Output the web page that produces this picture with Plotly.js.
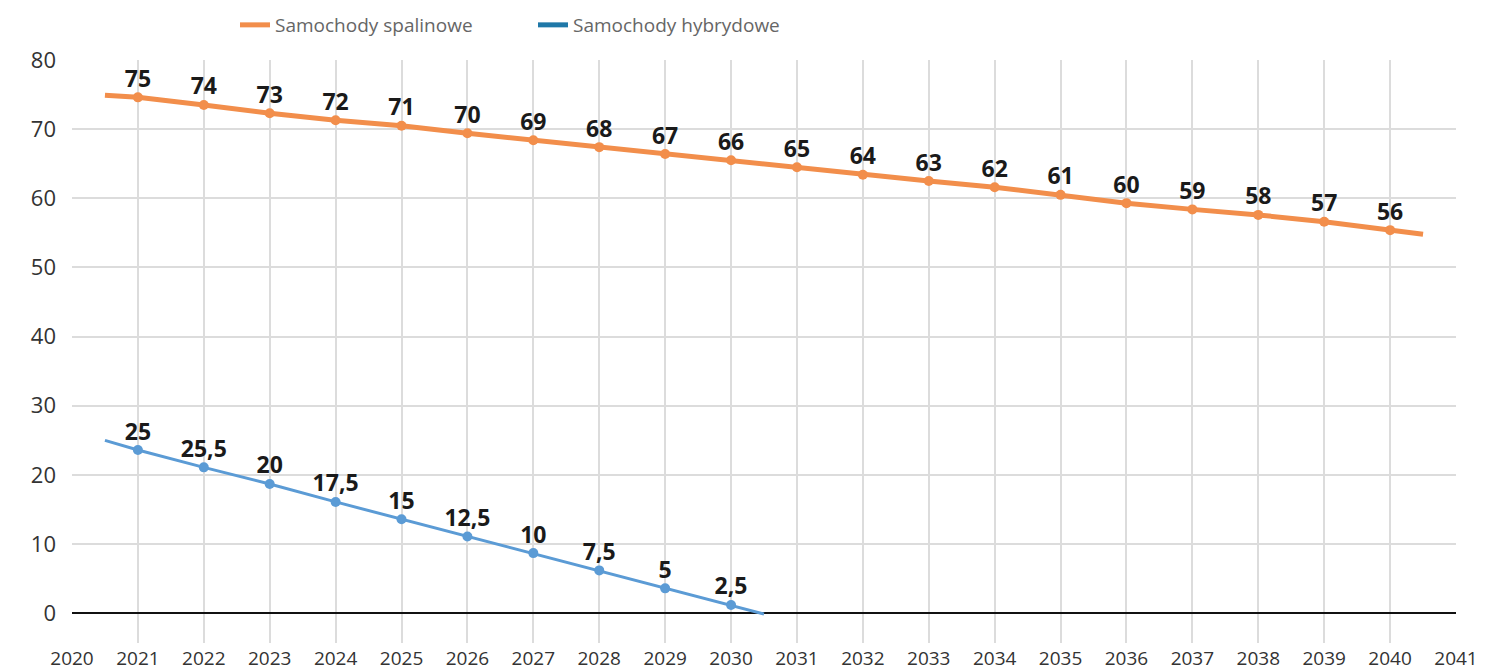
<!DOCTYPE html>
<html>
<head>
<meta charset="utf-8">
<script src="https://cdn.plot.ly/plotly-3.0.1.min.js"></script>
<style>html,body{margin:0;padding:0;background:#fff;}#chart{width:1491px;height:670px;}</style>
</head>
<body>
<div id="chart"></div>
<script>
// ---- data ----
const years = [2021,2022,2023,2024,2025,2026,2027,2028,2029,2030,2031,2032,2033,2034,2035,2036,2037,2038,2039,2040];
const combustionValues = [74.6,73.5,72.3,71.3,70.5,69.4,68.4,67.4,66.4,65.5,64.5,63.4,62.5,61.6,60.5,59.3,58.4,57.6,56.6,55.4];
const combustionLabels = ["75","74","73","72","71","70","69","68","67","66","65","64","63","62","61","60","59","58","57","56"];
const combustionStart = [2020.5, 74.9];
const combustionEnd = [2040.5, 54.8];

const hybridYears = [2021,2022,2023,2024,2025,2026,2027,2028,2029,2030];
const hybridValues = [23.6,21.1,18.7,16.1,13.6,11.1,8.7,6.2,3.6,1.2];
const hybridLabels = ["25","25,5","20","17,5","15","12,5","10","7,5","5","2,5"];
const hybridStart = [2020.5, 25.0];
const hybridEnd = [2030.5, -0.1];

const xTicks = [2020,2021,2022,2023,2024,2025,2026,2027,2028,2029,2030,2031,2032,2033,2034,2035,2036,2037,2038,2039,2040,2041];
const seriesNames = ["Samochody spalinowe","Samochody hybrydowe"];

const orange = "#F28E4B";
const blueLine = "#5B9BD5";
const blueLegend = "#1F78A8";

const labelFont = {family:"Open Sans, sans-serif", size:23, color:"#1a1a1a", weight:700};

const traces = [
  {x:[combustionStart[0]].concat(years,[combustionEnd[0]]), y:[combustionStart[1]].concat(combustionValues,[combustionEnd[1]]),
   mode:"lines", line:{color:orange, width:5}, showlegend:false, hoverinfo:"skip"},
  {x:years, y:combustionValues, mode:"markers", marker:{color:orange, size:10}, showlegend:false},
  {x:years, y:combustionValues, mode:"markers+text", marker:{size:6, opacity:0}, text:combustionLabels, textposition:"top center", textfont:labelFont, showlegend:false, cliponaxis:false},
  {x:[hybridStart[0]].concat(hybridYears,[hybridEnd[0]]), y:[hybridStart[1]].concat(hybridValues,[hybridEnd[1]]),
   mode:"lines", line:{color:blueLine, width:3}, showlegend:false, hoverinfo:"skip"},
  {x:hybridYears, y:hybridValues, mode:"markers", marker:{color:blueLine, size:10}, showlegend:false},
  {x:hybridYears, y:hybridValues, mode:"markers+text", marker:{size:6, opacity:0}, text:hybridLabels, textposition:"top center", textfont:labelFont, showlegend:false, cliponaxis:false},
  {x:[null], y:[null], mode:"lines", name:seriesNames[0], line:{color:orange, width:5}},
  {x:[null], y:[null], mode:"lines", name:seriesNames[1], line:{color:blueLegend, width:5}}
];

const layout = {
  width:1491, height:670,
  margin:{l:72, r:35, t:60, b:27},
  paper_bgcolor:"#fff", plot_bgcolor:"#fff",
  showlegend:true,
  legend:{orientation:"h", xref:"container", yref:"container", x:235/1491, y:1-6/670, xanchor:"left", yanchor:"top",
          font:{family:"Open Sans, sans-serif", size:19, color:"#666"}, itemwidth:30, entrywidth:253, bgcolor:"rgba(0,0,0,0)"},
  xaxis:{range:[2020,2041], tickvals:xTicks, ticktext:xTicks.map(String), showgrid:true, gridcolor:"#dcdcdc", gridwidth:2,
         zeroline:false, showline:false, ticks:"", ticklabelstandoff:2,
         tickfont:{family:"Open Sans, sans-serif", size:19, color:"#333"}, automargin:false},
  yaxis:{range:[-4.3,80], tick0:0, dtick:10, showgrid:true, gridcolor:"#dcdcdc", gridwidth:2,
         zeroline:true, zerolinecolor:"#111", zerolinewidth:2, showline:false, ticks:"", ticklabelstandoff:15,
         tickfont:{family:"Open Sans, sans-serif", size:22, color:"#333"}, automargin:false}
};

Plotly.newPlot("chart", traces, layout, {displayModeBar:false, staticPlot:true});
</script>
</body>
</html>
